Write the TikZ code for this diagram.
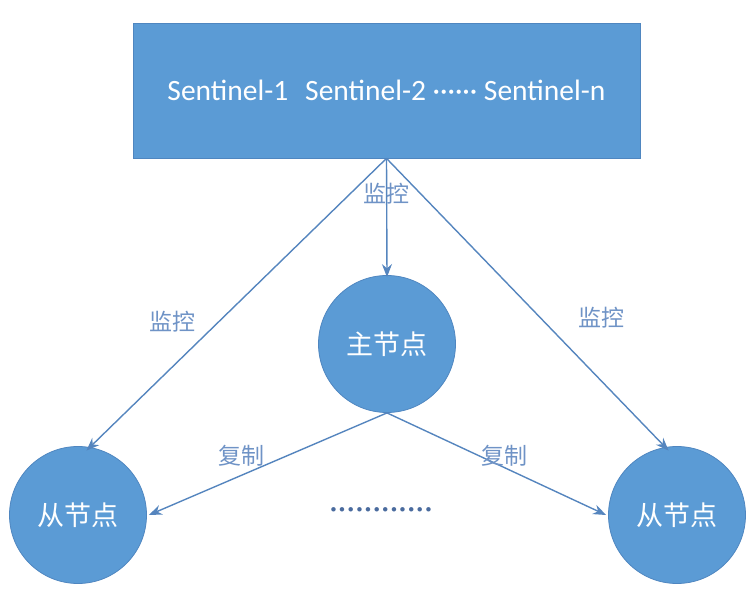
\documentclass[tikz,border=0pt]{standalone}
\usepackage{fontspec}
\setmainfont{Carlito}
\newfontfamily\cjk{Noto Sans CJK SC}
\usetikzlibrary{arrows.meta}
\definecolor{boxblue}{HTML}{5B9BD5}
\definecolor{edgeblue}{HTML}{4F86C0}
\definecolor{lineblue}{HTML}{5585BE}
\definecolor{lblblue}{HTML}{6F93C6}
\definecolor{dotblue}{HTML}{4A6B9E}
\newcommand{\sdot}{·\kern2.2pt}
\tikzset{
  sentbox/.style={fill=boxblue, draw=edgeblue, line width=0.8pt, minimum width=507pt, minimum height=135pt, inner sep=0pt, text=white, font=\fontsize{29.5}{31}\selectfont},
  nodecirc/.style={circle, fill=boxblue, draw=edgeblue, line width=0.8pt, minimum size=137pt, inner sep=0pt, text=white, font=\cjk\fontsize{27}{29}\selectfont},
  conn/.style={draw=lineblue, line width=1.4pt, -{Stealth[length=13pt,width=10pt]}},
  lbl/.style={text=lblblue, font=\cjk\fontsize{23}{25}\selectfont, inner sep=0pt}
}
\begin{document}
\begin{tikzpicture}[x=1pt,y=-1pt]
\useasboundingbox (0,0) rectangle (756,591);
\node[sentbox] (sent) at (386.5,90.5) {Sentinel-1\hspace{0.35em} Sentinel-2 ······ Sentinel-n};
\node[nodecirc] (master) at (387,344) {主节点};
\node[nodecirc] (s1) at (78,515) {从节点};
\node[nodecirc] (s2) at (677,515) {从节点};
\coordinate (apex) at (sent.south);
\draw[conn] (apex) -- ([yshift=-4pt]s1.83);
\draw[conn] (apex) -- ([yshift=-4pt]s2.97);
\draw[conn] (apex) -- ([yshift=-2pt]master.north);
\draw[conn] (master.south) -- ([xshift=2pt]s1.east);
\draw[conn] (master.south) -- ([xshift=-2pt]s2.west);
\node[lbl] (l1) at (386,194) {监控};
\node[lbl] (l2) at (172,322) {监控};
\node[lbl] (l3) at (601,318) {监控};
\node[lbl] (c1) at (241,456) {复制};
\node[lbl] (c2) at (504,456) {复制};
\node[text=dotblue, font=\bfseries\fontsize{24}{26}\selectfont, inner sep=0pt] (dots) at (381,512) {\sdot\sdot\sdot\sdot\sdot\sdot\sdot\sdot\sdot\sdot\sdot·};
\end{tikzpicture}
\end{document}
